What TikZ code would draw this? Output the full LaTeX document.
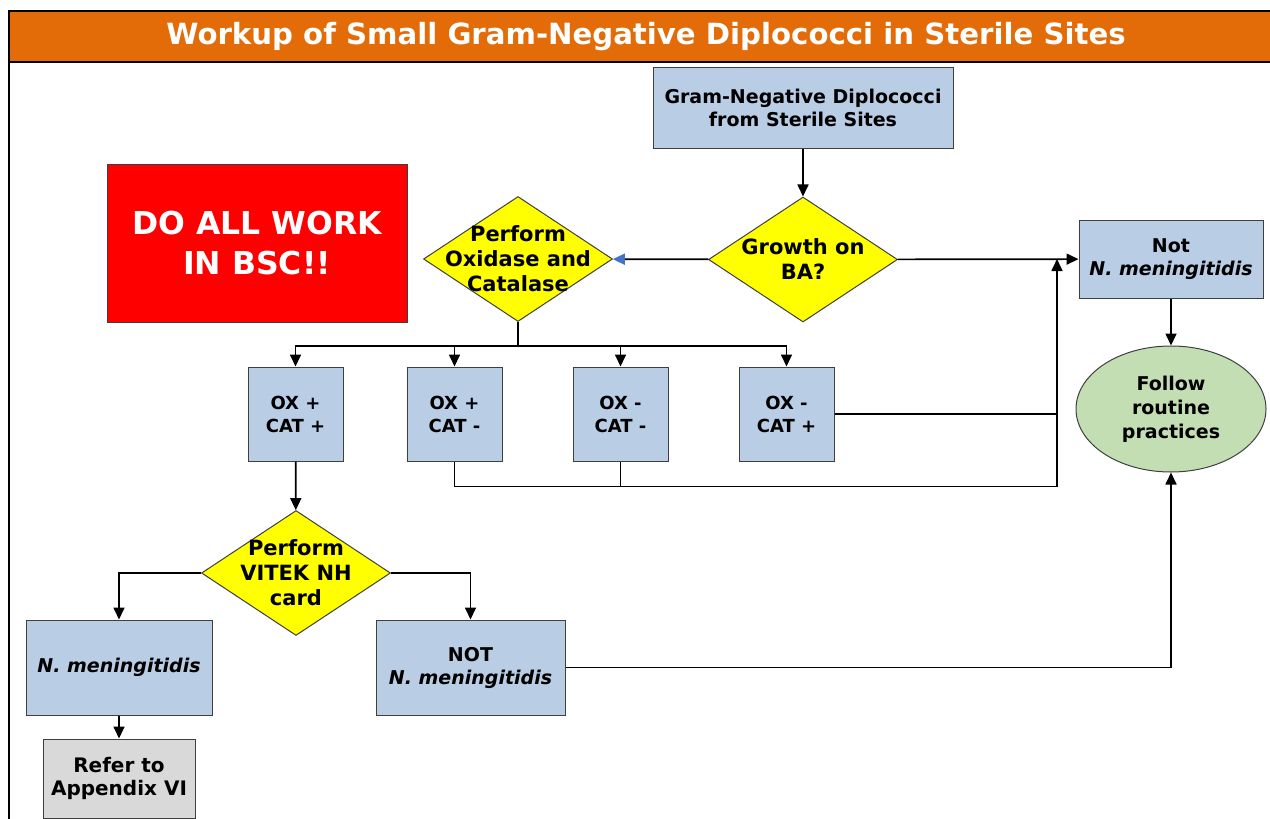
\documentclass[tikz,border=0pt]{standalone}
\usepackage{fontspec}
\setmainfont{DejaVu Sans}
\usetikzlibrary{arrows.meta, shapes.geometric}
\definecolor{cbar}{HTML}{E36C09}
\definecolor{cbox}{HTML}{B9CDE5}
\definecolor{cyellow}{HTML}{FFFF00}
\definecolor{cgreen}{HTML}{C4DEB4}
\definecolor{cgrey}{HTML}{D9D9D9}
\definecolor{cred}{HTML}{FF0000}
\definecolor{cblue}{HTML}{4472C4}
\definecolor{cline}{HTML}{3F3F3F}
\tikzset{
  every picture/.style={line width=1.6pt},
  box/.style={draw=cline, fill=#1, align=center, inner sep=2pt, line width=1pt,
    font=\bfseries\fontsize{19}{23}\selectfont},
  box/.default=cbox,
  question/.style={diamond, draw=cline, fill=cyellow, inner sep=0pt, line width=1pt,
    minimum width=189pt, minimum height=125pt,
    label={[align=center, font=\bfseries\fontsize{21}{25}\selectfont]center:#1}},
  arrow/.style={-{Triangle[length=12pt, width=11pt]}, draw=black, line width=1.7pt},
  line/.style={draw=black, line width=1.7pt},
}

\begin{document}
\begin{tikzpicture}[x=1pt, y=-1pt,
  ox/.style={box, minimum width=95pt, minimum height=94pt, font=\bfseries\fontsize{18}{23}\selectfont},
  result/.style={box, minimum width=186pt, minimum height=95pt}]
  \useasboundingbox (0,0) rectangle (1270,819);
  % ---------- frame and title
  \fill[cbar] (10,12) rectangle (1270,62);
  \draw[line width=2.2pt] (1270,11) -- (9,11) -- (9,819);
  \draw[line width=2.2pt] (9,62) -- (1270,62);
  \node[text=white, font=\bfseries\fontsize{29.2}{32}\selectfont] (title) at (646,37)
    {Workup of Small Gram-Negative Diplococci in Sterile Sites};
  % ---------- top row
  \node[box, minimum width=300pt, minimum height=81pt] (gnd) at (803,107.5)
    {Gram-Negative Diplococci\\from Sterile Sites};
  \node[question={Growth on\\BA?}] (growth) at (803,259.5) {};
  \node[question={Perform\\Oxidase and\\Catalase}] (oxcat) at (518,259) {};
  \node[box, minimum width=184pt, minimum height=78pt] (notnm) at (1171,259)
    {Not\\\textit{N. meningitidis}};
  \node[ellipse, draw=cline, fill=cgreen, line width=1pt, minimum width=190pt, minimum height=126pt,
    align=center, font=\bfseries\fontsize{19}{24}\selectfont] (routine) at (1171,409)
    {Follow\\routine\\practices};
  \node[box=cred, minimum width=300pt, minimum height=158pt, text=white,
    font=\bfseries\fontsize{31.5}{40}\selectfont] (bsc) at (257,243)
    {DO ALL WORK\\IN BSC!!};
  % ---------- oxidase / catalase results
  \node[ox] (oxpp) at (295.5,414) {OX +\\CAT +};
  \node[ox] (oxpm) at (454.5,414) {OX +\\CAT -};
  \node[ox] (oxmm) at (620.5,414) {OX -\\CAT -};
  \node[ox] (oxmp) at (786.5,414) {OX -\\CAT +};
  % ---------- VITEK
  \node[question={Perform\\VITEK NH\\card}] (vitek) at (296,573) {};
  \node[result] (nmen) at (119,667.5) {\textit{N. meningitidis}};
  \node[result, minimum width=189pt] (notnmen) at (470.5,667.5) {NOT\\\textit{N. meningitidis}};
  \node[box=cgrey, minimum width=152pt, minimum height=79pt, font=\bfseries\fontsize{20}{23}\selectfont]
    (refer) at (119,778.5) {Refer to\\Appendix VI};
  \coordinate (join) at (1057,259);
  % ---------- connectors
  \draw[arrow] (gnd) -- (growth);
  \draw[arrow, -{Triangle[length=12pt, width=11pt, color=cblue]}] (growth) -- (oxcat);
  \draw[arrow] (growth) -- (notnm);
  \draw[arrow] (notnm) -- (routine);
  \foreach \n in {oxpp,oxpm,oxmm,oxmp} \draw[arrow] (oxcat.south) -- ++(0,24) -| (\n.north);
  \draw[arrow] (oxpm.south) -- ++(0,25) -| (join);
  \draw[line] (oxmm.south) -- ++(0,25);
  \draw[line] (oxmp.east) -- (oxmp.east -| join);
  \draw[arrow] (oxpp) -- (vitek);
  \draw[arrow] (vitek.west) -| (nmen.north);
  \draw[arrow] (vitek.east) -| (notnmen.north);
  \draw[arrow] (nmen) -- (refer);
  \draw[arrow] (notnmen.east) -| (routine.south);
\end{tikzpicture}
\end{document}
